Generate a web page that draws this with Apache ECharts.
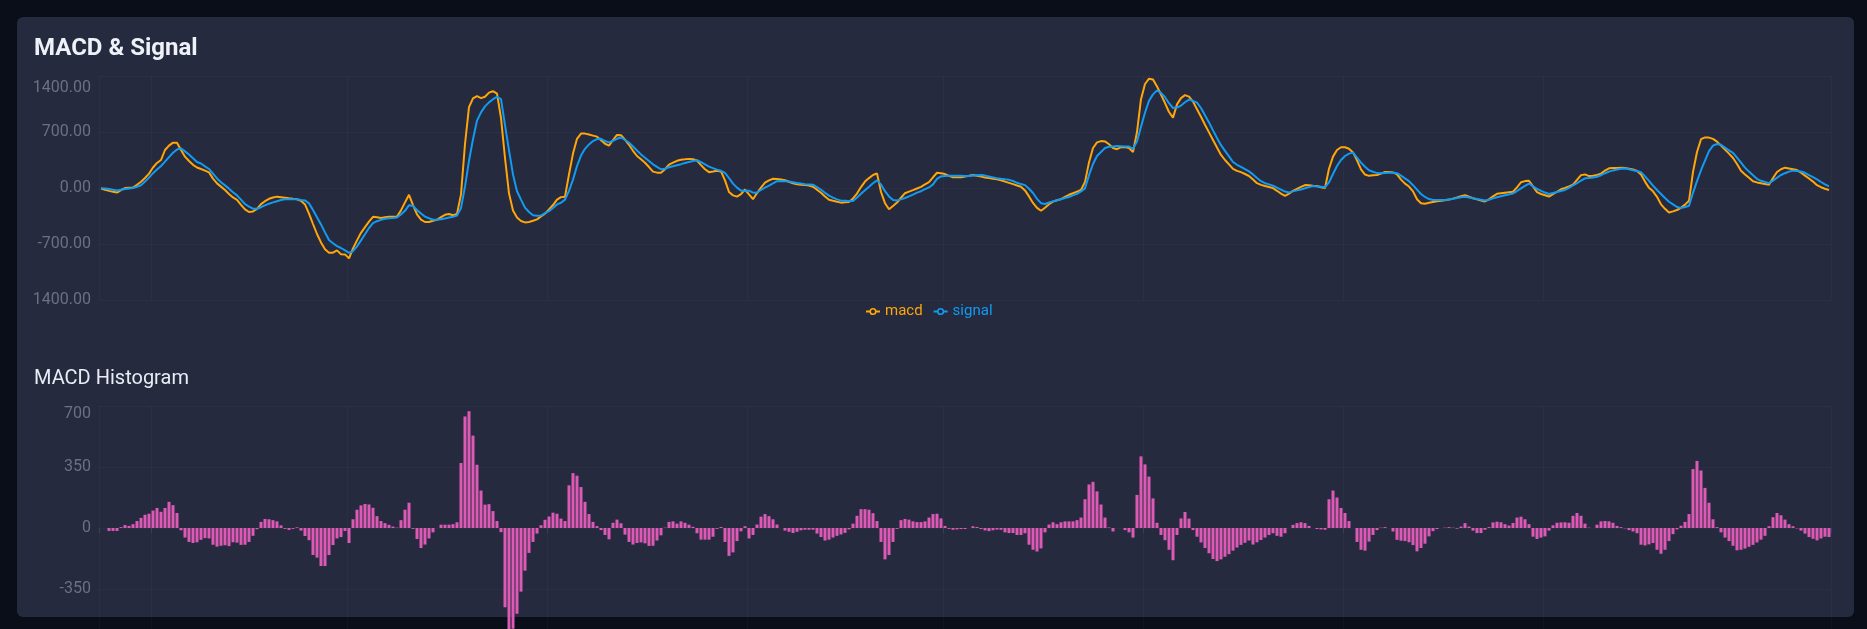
<!DOCTYPE html>
<html>
<head>
<meta charset="utf-8">
<title>MACD</title>
<script src="https://cdn.jsdelivr.net/npm/echarts@6/dist/echarts.min.js"></script>
<style>
  html, body { margin: 0; padding: 0; background: #0a0e18; overflow: hidden; }
  .card { position: absolute; left: 17px; top: 17px; width: 1837px; height: 600px; background: #252a3f; border-radius: 6px; }
  #chart { position: absolute; left: 33px; top: 0; width: 1804px; height: 700px; }
</style>
</head>
<body>
<div class="card"></div>
<div id="chart"></div>
<script>
// macd line, one value per day
const macd = [
  -7, -22, -36, -48, -57, -28, 0, 3, 5, 40, 79, 125, 180, 256, 313, 350, 475, 530, 567, 565, 476, 392, 337, 290, 256,
  238, 218, 195, 117, 58, 17, -25, -74, -118, -148, -210, -267, -300, -293, -260, -202, -165, -135, -118, -108, -115, -122, -129, -135, -140,
  -160, -205, -320, -450, -575, -680, -765, -808, -808, -780, -828, -830, -880, -755, -655, -560, -490, -420, -360, -365, -374, -365, -358, -358, -358,
  -280, -180, -85, -215, -330, -395, -425, -425, -410, -398, -365, -335, -325, -340, -325, -80, 550, 1010, 1120, 1148, 1123, 1140, 1192, 1210, 1180,
  875, 375, -67, -280, -370, -412, -430, -425, -410, -392, -355, -320, -268, -213, -146, -114, -108, 170, 430, 615, 680, 680, 668, 655, 642,
  597, 553, 530, 600, 663, 660, 605, 540, 465, 400, 360, 315, 262, 205, 192, 192, 235, 292, 316, 340, 353, 358, 364, 360, 343,
  286, 235, 198, 205, 215, 207, 95, -50, -92, -108, -77, -19, -80, -140, -63, 5, 67, 96, 115, 114, 107, 98, 78, 59, 47,
  42, 37, 32, 15, -21, -60, -107, -146, -160, -172, -183, -179, -175, -130, -70, 12, 80, 124, 162, 183, -50, -190, -265, -226, -182,
  -122, -65, -46, -27, -6, 15, 45, 74, 134, 191, 185, 174, 152, 133, 133, 134, 144, 153, 163, 152, 142, 131, 124, 117, 110,
  96, 80, 64, 48, 32, 16, -30, -105, -187, -248, -284, -246, -203, -171, -153, -139, -111, -85, -65, -45, -25, 77, 320, 500, 570,
  586, 582, 547, 500, 485, 510, 512, 500, 448, 700, 1110, 1300, 1366, 1355, 1270, 1168, 1060, 950, 880, 1045, 1123, 1161, 1142, 1080, 985,
  890, 790, 695, 600, 506, 413, 350, 295, 240, 214, 198, 175, 150, 107, 60, 39, 25, 12, -2, -35, -70, -98, -70, -35, -10,
  14, 37, 34, 29, 25, 10, 0, 240, 392, 475, 510, 510, 490, 445, 345, 233, 168, 152, 158, 162, 180, 200, 200, 195, 170,
  105, 55, 18, -42, -140, -190, -196, -185, -175, -167, -160, -152, -145, -133, -118, -102, -90, -110, -128, -142, -156, -168, -142, -104, -73,
  -66, -59, -52, -47, 7, 72, 86, 91, 20, -52, -75, -91, -107, -77, -47, -16, 2, 21, 43, 102, 161, 170, 149, 152, 164,
  180, 218, 246, 249, 251, 253, 251, 242, 232, 212, 170, 80, 2, -42, -110, -205, -260, -306, -292, -275, -248, -208, -160, 200, 450,
  610, 632, 630, 614, 580, 530, 480, 430, 375, 300, 215, 170, 128, 85, 70, 60, 50, 40, 125, 200, 235, 254, 245, 235, 225,
  190, 155, 119, 80, 35, 10, -10, -25
];

// signal line
const signal = [
  -3, -7, -13, -23, -32, -22, -12, -6, 0, 16, 35, 80, 130, 185, 230, 275, 329, 386, 440, 482, 495, 458, 418, 372, 325,
  306, 271, 238, 180, 120, 73, 33, -8, -52, -92, -146, -200, -232, -258, -260, -240, -218, -196, -180, -165, -150, -142, -142, -142, -142,
  -150, -155, -192, -275, -365, -455, -555, -650, -690, -726, -750, -780, -810, -790, -730, -655, -578, -500, -440, -415, -398, -385, -378, -374, -369,
  -330, -285, -215, -225, -275, -318, -358, -378, -396, -397, -390, -381, -370, -360, -345, -250, 17, 340, 610, 842, 945, 1020, 1070, 1110, 1140,
  1110, 785, 470, 170, -40, -145, -245, -300, -341, -347, -345, -315, -289, -250, -205, -185, -145, -35, 105, 275, 405, 490, 545, 587, 611,
  615, 587, 570, 590, 615, 632, 600, 567, 518, 468, 420, 378, 337, 296, 265, 234, 240, 260, 272, 285, 298, 312, 326, 338, 348,
  322, 295, 268, 248, 230, 215, 190, 125, 55, 5, -33, -33, -33, -58, -55, -25, 4, 30, 57, 85, 88, 85, 81, 72, 63,
  55, 48, 45, 42, 12, -22, -60, -95, -120, -142, -158, -160, -162, -162, -120, -72, -28, 15, 60, 95, 45, -40, -105, -150, -155,
  -142, -125, -105, -82, -58, -40, -15, 7, 45, 115, 145, 149, 153, 154, 153, 152, 151, 150, 155, 160, 162, 155, 143, 133, 123,
  115, 108, 102, 87, 65, 49, 36, -10, -63, -135, -190, -200, -182, -167, -154, -140, -126, -112, -92, -74, -42, -5, 160, 300, 400,
  450, 500, 515, 520, 524, 523, 520, 518, 490, 580, 767, 940, 1090, 1170, 1220, 1190, 1135, 1060, 1000, 1005, 1030, 1072, 1105, 1090, 1067,
  1000, 910, 820, 720, 625, 535, 465, 395, 325, 290, 265, 236, 208, 170, 126, 85, 60, 45, 28, 5, -20, -45, -55, -42, -30,
  -18, -3, 11, 25, 20, 15, 10, 70, 175, 275, 350, 400, 430, 442, 380, 317, 265, 222, 203, 186, 185, 188, 190, 191, 185,
  155, 120, 86, 35, -20, -75, -112, -138, -150, -150, -150, -150, -145, -135, -125, -115, -109, -118, -128, -137, -146, -156, -147, -130, -115,
  -102, -90, -80, -68, -38, -5, 27, 56, 20, -10, -35, -57, -75, -62, -50, -38, -25, 3, 32, 62, 92, 121, 126, 132, 140,
  160, 185, 205, 220, 230, 240, 245, 234, 223, 212, 198, 145, 90, 30, -25, -75, -125, -172, -205, -238, -250, -238, -222, -60, 85,
  222, 342, 460, 530, 550, 540, 505, 470, 440, 380, 318, 255, 205, 160, 115, 90, 75, 60, 92, 128, 163, 185, 205, 217, 212,
  206, 190, 160, 135, 107, 75, 45, 20
];

// histogram bars
const histogram = [
  0, 0, -17, -17, -17, 5, 17, 12, 22, 40, 58, 76, 82, 100, 115, 93, 115, 150, 131, 86, -13, -55, -80, -86, -82,
  -68, -58, -60, -96, -107, -102, -99, -104, -82, -84, -97, -96, -80, -45, -7, 35, 52, 50, 45, 38, 15, -5, -11, -5, 4,
  -15, -46, -70, -155, -170, -218, -218, -155, -98, -60, -52, -17, -86, 50, 105, 130, 138, 135, 116, 68, 40, 28, 18, 8, 2,
  45, 105, 145, -5, -63, -115, -95, -60, -25, 0, 19, 19, 19, 22, 33, 373, 640, 670, 530, 363, 215, 134, 137, 97, 40,
  -24, -455, -595, -578, -492, -365, -245, -143, -80, -32, 16, 47, 66, 88, 82, 54, 40, 245, 315, 300, 235, 150, 80, 35, 11,
  -12, -40, -65, 30, 48, 27, -38, -80, -95, -86, -83, -88, -103, -102, -72, -42, 2, 35, 38, 25, 38, 30, 19, 7, -30,
  -67, -67, -67, -50, -5, 6, -80, -160, -140, -75, -19, 10, -60, -40, 20, 65, 80, 68, 50, 20, 0, -15, -22, -29, -22,
  -13, -10, -10, -10, -32, -52, -72, -67, -55, -45, -37, -28, -8, 25, 70, 108, 108, 105, 85, 40, -80, -180, -155, -80, -5,
  45, 52, 48, 38, 34, 34, 38, 60, 80, 82, 55, 12, -5, -10, -8, -6, -6, 0, 10, 6, -6, -14, -18, -13, -9,
  -10, -25, -29, -29, -40, -40, -30, -96, -125, -135, -117, -25, 20, 33, 22, 33, 38, 38, 38, 45, 60, 165, 250, 265, 210,
  135, 60, 3, -20, 0, 0, -12, -25, -55, 190, 411, 365, 295, 170, 30, -40, -70, -125, -185, -40, 55, 92, 54, -12, -50,
  -83, -115, -145, -178, -190, -180, -165, -150, -130, -112, -97, -85, -72, -95, -82, -69, -55, -40, -30, -45, -50, -30, 0, 18, 28,
  33, 28, 12, 0, -6, -8, -10, 165, 215, 175, 115, 86, 40, 0, -80, -125, -130, -78, -40, -12, 2, 5, 0, -20, -68,
  -73, -75, -82, -98, -134, -115, -90, -48, -18, -6, 0, 2, 5, 2, -4, 8, 28, 8, -15, -29, -29, -10, 5, 32, 36,
  33, 22, 14, 29, 60, 65, 50, 22, -50, -63, -55, -48, -15, 15, 30, 32, 33, 30, 70, 86, 70, 25, 2, 0, 19,
  38, 40, 38, 30, 12, 5, -2, -12, -20, -30, -96, -100, -94, -86, -125, -148, -125, -75, -35, -8, 13, 35, 80, 338, 385,
  330, 230, 145, 50, 5, -25, -55, -75, -102, -128, -125, -118, -108, -97, -83, -67, -45, 10, 62, 86, 73, 48, 22, 10, -2,
  -15, -32, -52, -62, -71, -60, -50, -52
];

const lineTicks = [1400, 700, 0, -700, -1400];
const histTicks = [700, 350, 0, -350, -700];
// days where the time axis puts a tick / grid line
const tickDays = [0, 13, 62, 112, 162, 211, 261, 311, 361];
const days = macd.map((v, i) => 'day ' + (i + 1));

const orange = '#ffa60a';
const blue = '#129bf0';
const pink = '#dc5ab5';
const labelColor = '#6b7083';
const gridLine = 'rgba(255,255,255,0.028)';
const showTick = (i) => tickDays.indexOf(i) >= 0;
// legend icon: short line with a hollow ring in the middle
const lineRingIcon = 'path://M0,3H3.6V5H0Z M10.4,3H14V5H10.4Z M7,0.4A3.6,3.6 0 1 1 6.99,0.4Z M7,2A2,2 0 1 0 7.01,2Z';

function yAxisFor(ticks, grid, digits, topPad) {
  const max = Math.max(...ticks);
  return {
    type: 'value',
    gridIndex: grid,
    min: Math.min(...ticks),
    max: max,
    interval: ticks[0] - ticks[1],
    axisLine: { show: false },
    axisTick: { show: false },
    splitLine: { lineStyle: { color: gridLine } },
    axisLabel: {
      color: labelColor,
      fontSize: 16,
      fontFamily: 'Roboto',
      margin: 8,
      formatter: (v) => v === max ? '{top|' + v.toFixed(digits) + '}' : v.toFixed(digits),
      rich: {
        top: { padding: [topPad, 0, 0, 0], color: labelColor, fontSize: 16, fontFamily: 'Roboto' }
      }
    }
  };
}

const chart = echarts.init(document.getElementById('chart'));
chart.setOption({
  animation: false,
  title: [
    {
      text: 'MACD & Signal', left: 1, top: 37, padding: 0,
      textStyle: { color: '#eef1f8', fontSize: 24, fontWeight: 'bold', fontFamily: 'Roboto' }
    },
    {
      text: 'MACD Histogram', left: 1, top: 369, padding: 0,
      textStyle: { color: '#e9ecf3', fontSize: 20, fontWeight: 'normal', fontFamily: 'Roboto' }
    }
  ],
  legend: {
    left: 828, top: 299,
    itemWidth: 14, itemHeight: 8, itemGap: 11,
    textStyle: { fontSize: 15, fontFamily: 'Roboto' },
    data: [
      { name: 'macd', icon: lineRingIcon, textStyle: { color: orange } },
      { name: 'signal', icon: lineRingIcon, textStyle: { color: blue } }
    ]
  },
  grid: [
    { left: 66, right: 6, top: 76, height: 224, outerBoundsMode: 'none' },
    { left: 66, right: 6, top: 406, height: 244, outerBoundsMode: 'none' }
  ],
  xAxis: [
    {
      type: 'category', gridIndex: 0, data: days,
      axisLine: { show: false }, axisTick: { show: false }, axisLabel: { show: false },
      splitLine: { show: true, interval: showTick, lineStyle: { color: gridLine } }
    },
    {
      type: 'category', gridIndex: 1, data: days, offset: -30,
      axisLine: { show: false },
      axisTick: { show: true, interval: showTick, length: 5, lineStyle: { color: '#3a4156' } },
      axisLabel: { show: false },
      splitLine: { show: true, interval: showTick, lineStyle: { color: gridLine } }
    }
  ],
  yAxis: [yAxisFor(lineTicks, 0, 2, 23), yAxisFor(histTicks, 1, 0, 16)],
  series: [
    {
      name: 'macd', type: 'line', xAxisIndex: 0, yAxisIndex: 0, data: macd,
      showSymbol: false, symbol: 'emptyCircle',
      lineStyle: { width: 2, color: orange }, itemStyle: { color: orange }
    },
    {
      name: 'signal', type: 'line', xAxisIndex: 0, yAxisIndex: 0, data: signal,
      showSymbol: false, symbol: 'emptyCircle',
      lineStyle: { width: 2, color: blue }, itemStyle: { color: blue }
    },
    {
      name: 'histogram', type: 'bar', xAxisIndex: 1, yAxisIndex: 1, data: histogram,
      barWidth: 3, itemStyle: { color: pink }
    }
  ]
});
</script>
</body>
</html>
